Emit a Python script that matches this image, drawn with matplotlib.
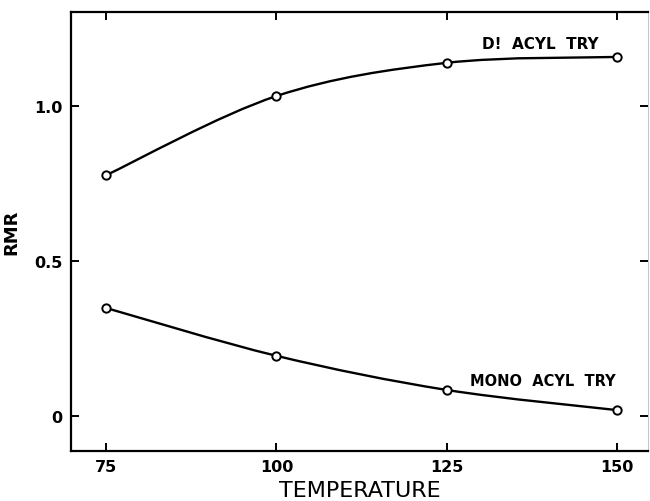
import numpy as np
import matplotlib
matplotlib.use("Agg")
import matplotlib.pyplot as plt
from matplotlib.path import Path
import matplotlib.patches as mpatches

# ---------------------------------------------------------------------------
# Data
# ---------------------------------------------------------------------------
temperature = [75, 100, 125, 150]
di_acyl     = [0.777, 1.032, 1.139, 1.158]
mono_acyl   = [0.348, 0.194, 0.084, 0.019]

x_ticks = [75, 100, 125, 150]
y_ticks = [0, 0.5, 1.0]
y_tick_labels = ['0', '0.5', '1.0']


def smooth_path(xs, ys):
    """Catmull-Rom style cubic Bezier path through the points."""
    pts = np.column_stack([xs, ys]).astype(float)
    verts = [pts[0]]
    codes = [Path.MOVETO]
    n = len(pts)
    for i in range(n - 1):
        p0 = pts[i - 1] if i > 0 else pts[i]
        p1, p2 = pts[i], pts[i + 1]
        p3 = pts[i + 2] if i + 2 < n else pts[i + 1]
        c1 = p1 + (p2 - p0) / 6.0
        c2 = p2 - (p3 - p1) / 6.0
        verts += [c1, c2, p2]
        codes += [Path.CURVE4] * 3
    return Path(verts, codes)


fig = plt.figure(figsize=(6.5, 5.02), dpi=100)
ax = fig.add_axes([71 / 650, 1 - 452 / 502, (648 - 71) / 650, (452 - 13) / 502])

for ys in (di_acyl, mono_acyl):
    ax.add_patch(mpatches.PathPatch(smooth_path(temperature, ys), facecolor='none',
                                    edgecolor='black', linewidth=1.7, zorder=2))
    ax.plot(temperature, ys, linestyle='none', marker='o', markersize=6,
            markerfacecolor='white', markeredgecolor='black', markeredgewidth=1.4,
            zorder=3)

ax.set_xlim(69.8, 154.6)
ax.set_ylim(-0.113, 1.303)

ax.set_xticks(x_ticks)
ax.set_xticklabels([str(t) for t in x_ticks])
ax.set_yticks(y_ticks)
ax.set_yticklabels(y_tick_labels)
ax.tick_params(direction='in', length=6, width=1.4, top=True, right=True,
               labelsize=11.5, pad=6)
for lab in ax.get_xticklabels() + ax.get_yticklabels():
    lab.set_fontweight('bold')

for sp in ax.spines.values():
    sp.set_linewidth(1.6)
ax.spines['right'].set_linewidth(0.6)
ax.spines['right'].set_color('#bbbbbb')

ax.text(138.8, 1.2, 'D!  ACYL  TRY', ha='center', va='center',
        fontsize=11, fontweight='bold')
ax.text(139.1, 0.116, 'MONO  ACYL  TRY', ha='center', va='center',
        fontsize=10.5, fontweight='bold')

ax.set_xlabel('TEMPERATURE', fontsize=16, labelpad=4)
ax.set_ylabel('RMR', fontsize=13, fontweight='bold', labelpad=10)

fig.savefig('out.png', dpi=100, facecolor='white')
